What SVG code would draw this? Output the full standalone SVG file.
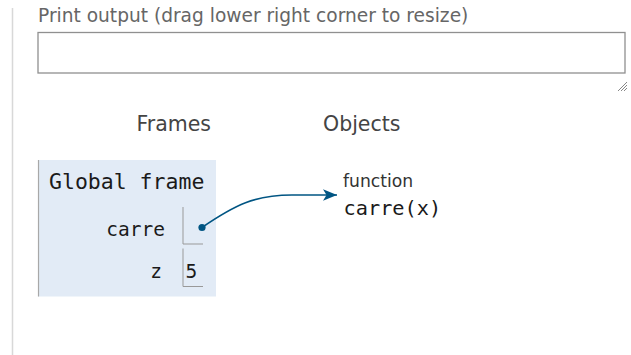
<svg xmlns="http://www.w3.org/2000/svg" width="631" height="355" viewBox="0 0 631 355">
<style>
.sans{font-family:"DejaVu Sans","Liberation Sans",sans-serif}
.mono{font-family:"DejaVu Sans Mono","Liberation Mono",monospace;fill:#1a1a1a}
.hdr{font-size:20.5px;fill:#444}
.cell{fill:none;stroke:#999;stroke-width:1}
.conn{fill:none;stroke:#005583;stroke-width:1.6}
</style>
<defs>
<marker id="arr" markerUnits="userSpaceOnUse" markerWidth="18" markerHeight="14" refX="14" refY="7" orient="auto">
<path d="M0,1.2 L14,7 L0,12.8 L3.5,7 Z" fill="#005583"/>
</marker>
</defs>
<rect x="0" y="0" width="631" height="355" fill="#ffffff"/>
<line x1="12.5" y1="8" x2="12.5" y2="355" stroke="#d8d8d8" stroke-width="1.5"/>
<g id="print-output">
<text class="sans" x="38" y="21.5" font-size="18.6" fill="#666">Print output (drag lower right corner to resize)</text>
<rect x="38" y="32.5" width="587" height="40.5" fill="#fff" stroke="#909090" stroke-width="1.3"/>
<g stroke="#888" stroke-width="1">
<line x1="618" y1="91" x2="627" y2="82"/>
<line x1="621" y1="91" x2="627" y2="85"/>
<line x1="624" y1="91" x2="627" y2="88"/>
</g>
</g>
<g id="headers">
<text class="sans hdr" x="136.5" y="131">Frames</text>
<text class="sans hdr" x="323" y="131">Objects</text>
</g>
<g id="global-frame">
<rect x="38" y="160" width="178" height="136.5" fill="#e2ebf6"/>
<line x1="38.5" y1="160" x2="38.5" y2="296.5" stroke="#a8a8a8" stroke-width="1.2"/>
<text class="mono" x="49" y="188.5" font-size="21.5">Global frame</text>
<g id="var-carre">
<text class="mono" x="165" y="235.5" font-size="19.5" text-anchor="end">carre</text>
<path class="cell" d="M183,207 V244 H203"/>
<circle cx="202" cy="227.5" r="3.6" fill="#005583"/>
</g>
<g id="var-z">
<text class="mono" x="162" y="277.5" font-size="19.5" text-anchor="end">z</text>
<path class="cell" d="M183,248.5 V286.5 H203"/>
<text class="mono" x="185.5" y="277.5" font-size="19.5">5</text>
</g>
</g>
<g id="func-carre">
<text class="sans" x="343" y="187" font-size="17.2" fill="#333">function</text>
<text class="mono" x="343.5" y="215" font-size="20.3">carre(x)</text>
</g>
<g id="connectors">
<path class="conn" d="M202,227.5 C235,205 255,195 292,195 L337,195" marker-end="url(#arr)"/>
</g>
</svg>
